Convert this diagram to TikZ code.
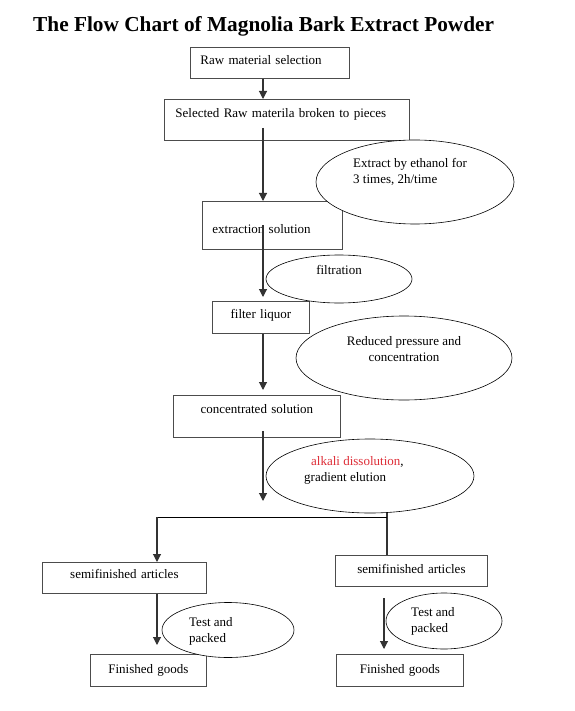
\documentclass[tikz,border=0pt]{standalone}
\usepackage{fontspec}
\setmainfont{Liberation Serif}
\usetikzlibrary{shapes.geometric,arrows.meta,calc}
\definecolor{alkred}{RGB}{222,45,55}
\begin{document}
\begin{tikzpicture}[x=1pt,y=-1pt,>={Triangle[length=8pt,width=8pt]},
	font=\fontsize{13pt}{16pt}\selectfont,
	box/.style={draw=black!70,line width=0.8pt,inner xsep=0pt,inner ysep=0pt,anchor=north west,align=center},
	oval/.style={draw,fill=white,ellipse,line width=0.6pt,inner sep=0pt},
	lbl/.style={inner sep=0pt,anchor=base west,align=left},
	link/.style={draw=black!80,line width=1.1pt}]
	\useasboundingbox (0,0) rectangle (574,711);
	\node[anchor=base west,inner sep=0pt,font=\fontsize{21.3pt}{24pt}\selectfont\bfseries] (title) at (33,32) {The Flow Chart of Magnolia Bark Extract Powder};
	\coordinate (spine) at (263,0);
	% boxes
	\node[box,align=left,text width=139pt,inner xsep=10pt,text height=17pt,text depth=14pt] (raw) at (190,47) {Raw material selection};
	\node[box,align=left,text width=223pt,inner xsep=11pt,text height=18pt,text depth=23pt] (broken) at (164,99) {Selected Raw materila broken to pieces};
	\node[box,align=left,text width=120pt,inner xsep=10pt,text height=32pt,text depth=16pt] (extract) at (202,201) {extraction solution};
	\node[box,text width=97pt,text height=17pt,text depth=15pt] (liquor) at (212,301) {filter liquor};
	\node[box,text width=167pt,text height=18pt,text depth=24pt] (conc) at (173,395) {concentrated solution};
	\node[box,text width=164pt,text height=16pt,text depth=15pt] (semiL) at (42,562) {semifinished articles};
	\node[box,text width=152pt,text height=18pt,text depth=13pt] (semiR) at (335,555) {semifinished articles};
	\node[box,text width=116pt,text height=19pt,text depth=13pt] (goodsL) at (90,654) {Finished goods};
	\node[box,text width=127pt,text height=19pt,text depth=13pt] (goodsR) at (336,654) {Finished goods};
	% connectors
	\coordinate (concend) at (263,501);
	\coordinate (forkL) at (157,517);
	\coordinate (forkR) at (387,513);
	\coordinate (rspine) at (384,598);
	\draw[link,->] (raw.south -| spine) -- (broken.north -| spine);
	\draw[link,->] ($(broken.south -| spine)+(0,-13)$) -- (extract.north -| spine);
	\draw[link,->] (extract.center -| spine) -- ($(liquor.north -| spine)+(0,-4)$);
	\draw[link,->] (liquor.south -| spine) -- ($(conc.north -| spine)+(0,-5)$);
	\draw[link,->] ($(conc.south -| spine)+(0,-7)$) -- (concend);
	\draw[link] (forkR) -- (semiR.north -| forkR);
	\draw[link,draw=black,line width=0.7pt] (forkL) -- (forkL -| forkR);
	\draw[link,->] (forkL) -- (semiL.north -| forkL);
	\draw[link,->] (semiL.south -| forkL) -- ($(goodsL.north -| forkL)+(0,-9)$);
	\draw[link,->] (rspine) -- ($(goodsR.north -| rspine)+(0,-5)$);
	% process steps
	\node[oval,minimum width=198pt,minimum height=84pt] (ethanol) at (415,182) {};
	\node[lbl] (ethanoltxt) at (353,184) {Extract by ethanol for\\3 times, 2h/time};
	\node[oval,minimum width=146pt,minimum height=48pt] (filt) at (339,279) {};
	\node[lbl,anchor=base] (filttxt) at (339,274) {filtration};
	\node[oval,minimum width=216pt,minimum height=84pt] (reduce) at (404,358) {};
	\node[lbl,anchor=base,align=center] (reducetxt) at (404,361) {Reduced pressure and\\concentration};
	\node[oval,minimum width=208pt,minimum height=74pt] (alkali) at (370,476) {};
	\node[lbl] (alkalitxt) at (304,481) {\hspace*{7pt}\textcolor{alkred}{alkali dissolution},\\gradient elution};
	\node[oval,minimum width=132pt,minimum height=55pt] (testL) at (228,630) {};
	\node[lbl] (testLtxt) at (189,642) {Test and\\packed};
	\node[oval,minimum width=116pt,minimum height=56pt] (testR) at (444,621) {};
	\node[lbl] (testRtxt) at (411,632) {Test and\\packed};
\end{tikzpicture}
\end{document}
